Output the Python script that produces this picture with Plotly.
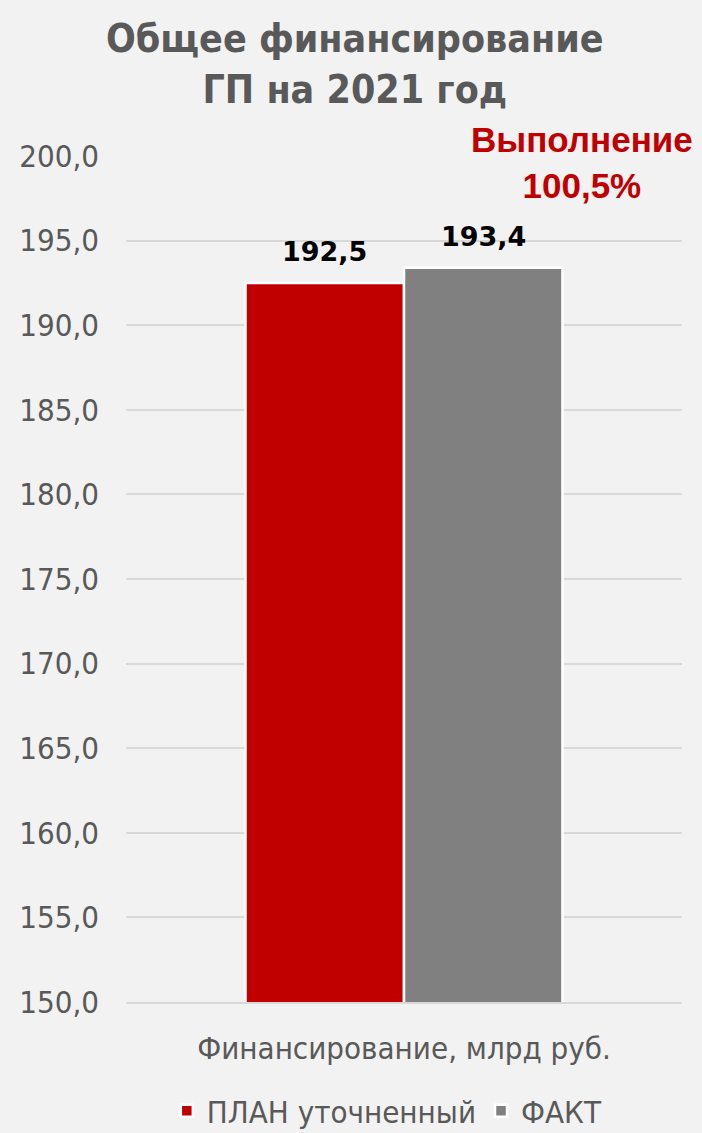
import plotly.graph_objects as go

categories = ["Финансирование, млрд руб."]
series_names = ["ПЛАН уточненный", "ФАКТ"]
plan_values = [192.5]
fact_values = [193.4]
value_labels_plan = ["192,5"]
value_labels_fact = ["193,4"]
tick_vals = [150, 155, 160, 165, 170, 175, 180, 185, 190, 195, 200]
tick_text = ["150,0", "155,0", "160,0", "165,0", "170,0", "175,0", "180,0", "185,0", "190,0", "195,0", "200,0"]
colors = ["#C00000", "#808080"]

fig = go.Figure()
for name, vals, col in [(series_names[0], plan_values, colors[0]),
                        (series_names[1], fact_values, colors[1])]:
    fig.add_trace(go.Bar(
        x=categories, y=vals, name=name,
        marker=dict(color=col, line=dict(color="#FFFFFF", width=2.5)),
    ))

annotations = []
for vals, labs, shift in [(plan_values, value_labels_plan, -80), (fact_values, value_labels_fact, 79)]:
    for c, v, t in zip(categories, vals, labs):
        annotations.append(dict(x=c, y=v, text=t, showarrow=False, xshift=shift, yshift=31,
                                xanchor="center", yanchor="middle",
                                font=dict(family="DejaVu Sans", size=27, color="#000000", weight="bold")))

annotations.append(dict(text="Общее финансирование<br>ГП на 2021 год", xref="paper", yref="paper",
                        x=(355 - 126) / 556, y=(1002 - 64) / 846, xanchor="center", yanchor="middle",
                        showarrow=False, align="center",
                        font=dict(family="DejaVu Sans Condensed", size=39, color="#595959", weight="bold")))
annotations.append(dict(text="Выполнение<br>100,5%", xref="paper", yref="paper",
                        x=(582 - 126) / 556, y=(1002 - 163) / 846, xanchor="center", yanchor="middle",
                        showarrow=False, align="center",
                        font=dict(family="Liberation Sans", size=35, color="#C00000", weight="bold")))

fig.update_layout(
    width=702, height=1133,
    paper_bgcolor="#F2F2F2", plot_bgcolor="#F2F2F2",
    margin=dict(l=126, r=20, t=156, b=131, autoexpand=False),
    barmode="group", bargap=0.43, bargroupgap=0.0,
    yaxis=dict(range=[150, 200], tickvals=tick_vals, ticktext=tick_text,
               showgrid=True, gridcolor="#D9D9D9", gridwidth=1.5, zeroline=False,
               tickfont=dict(family="DejaVu Sans Condensed", size=31, color="#595959"),
               ticklabelstandoff=26, showline=False),
    xaxis=dict(showline=True, linecolor="#D9D9D9", linewidth=1.5,
               ticks="", tickfont=dict(family="DejaVu Sans Condensed", size=31, color="#595959"),
               ticklabelstandoff=18),
    legend=dict(orientation="h", x=0.47, xanchor="center", y=-0.129, yanchor="middle",
                font=dict(family="DejaVu Sans Condensed", size=31, color="#595959"),
                itemwidth=30, traceorder="normal", bgcolor="rgba(0,0,0,0)"),
    showlegend=True,
    annotations=annotations,
)

fig.write_html("out.html", config={"displayModeBar": False},
               post_script="document.body.style.margin='0';")
